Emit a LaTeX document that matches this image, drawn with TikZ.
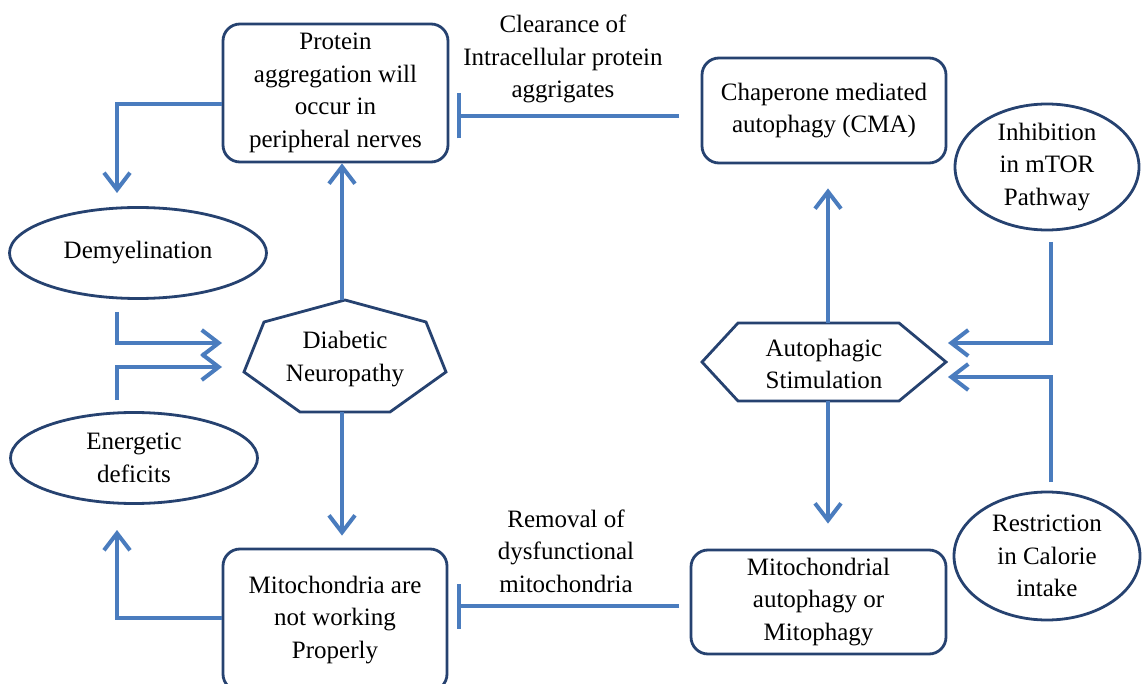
\documentclass[tikz,border=0pt]{standalone}
\usepackage{fontspec}
\setmainfont{Liberation Serif}
\usetikzlibrary{arrows.meta,shapes.geometric,calc}
\definecolor{lineblue}{RGB}{74,124,190}
\definecolor{edgeblue}{RGB}{38,66,112}
\begin{document}
\begin{tikzpicture}[x=1pt,y=-1pt,
  every node/.style={font=\fontsize{25}{32.5}\selectfont, align=center, text=black},
  box/.style={draw=edgeblue, line width=2.8pt, rounded corners=17pt, inner sep=0pt},
  oval/.style={draw=edgeblue, line width=2.8pt, ellipse, inner sep=0pt},
  poly/.style={draw=edgeblue, line width=2.8pt, line join=miter},
  conn/.style={draw=lineblue, line width=4pt},
  arr/.style={conn, -{Straight Barb[length=17pt,width=26pt,line width=4pt]}},
  inh/.style={conn, -{Bar[width=45pt,line width=4pt]}}
]
\useasboundingbox (0,0) rectangle (1142,684);

% nodes
\node[box, minimum width=225pt, minimum height=138pt] (prot) at (335.5,93)
  {Protein\\aggregation will\\occur in\\peripheral nerves};
\node[box, minimum width=244pt, minimum height=105pt] (cma) at (824,110.5)
  {Chaperone mediated\\autophagy (CMA)};
\node[box, minimum width=224pt, minimum height=142pt] (mito) at (335,620)
  {Mitochondria are\\not working\\Properly};
\node[box, minimum width=255pt, minimum height=104pt] (mitoph) at (818.5,602)
  {Mitochondrial\\autophagy or\\Mitophagy};
\node[oval, minimum width=257pt, minimum height=91pt] (demy) at (138,253) {Demyelination};
\node[oval, minimum width=247pt, minimum height=91pt] (energ) at (134,458) {Energetic\\deficits};
\node[oval, minimum width=184pt, minimum height=126pt] (mtor) at (1047,167) {Inhibition\\in mTOR\\Pathway};
\node[oval, minimum width=186pt, minimum height=128pt] (calor) at (1047,556) {Restriction\\in Calorie\\intake};

% heptagon Diabetic Neuropathy
\node (dn) at (345,359) {Diabetic\\Neuropathy};
\draw[poly] (345,300) -- (426,322) -- (446,372) -- (390,412) -- (300,412) -- (244,372) -- (264,322) -- cycle;
\coordinate (dntop) at (342,300);
\coordinate (dnbot) at (342,412);

% hexagon Autophagic Stimulation
\node (as) at (824,364) {Autophagic\\Stimulation};
\draw[poly] (702,362) -- (738,323) -- (899,323) -- (946,362) -- (899,401) -- (738,401) -- cycle;
\coordinate (astop) at (828,323);
\coordinate (asbot) at (828,401);
\coordinate (aseast1) at (948,343);
\coordinate (aseast2) at (948,377);

% labels
\node (lab1) at (563,59) {Clearance of\\Intracellular protein\\aggrigates};
\node (lab2) at (566,551) {Removal of\\dysfunctional\\mitochondria};

% free ends
\coordinate (c1) at (117,193);
\coordinate (c2) at (117,312);
\coordinate (c3) at (222,343);
\coordinate (c4) at (117,400);
\coordinate (c5) at (222,367);
\coordinate (c6) at (117,530);
\coordinate (t1a) at (679,116);
\coordinate (t1b) at (457,116);
\coordinate (t2a) at (679,606);
\coordinate (t2b) at (457,606);
\coordinate (m1) at (1051,242);
\coordinate (m2) at (1051,482);

% connectors
\draw[arr] ([yshift=-11pt]prot.west) -| (c1);
\draw[arr] (c2) |- (c3);
\draw[arr] (c4) |- (c5);
\draw[arr] ([yshift=2pt]mito.west) -| (c6);
\draw[arr] (dntop) -- (dntop |- prot.south);
\draw[arr] (dnbot) -- ($(dnbot |- mito.north)+(0,-12)$);
\draw[inh] (t1a) -- (t1b);
\draw[inh] (t2a) -- (t2b);
\draw[arr] (astop) -- ($(astop |- cma.south)+(0,24)$);
\draw[arr] (asbot) -- ($(asbot |- mitoph.north)+(0,-25)$);
\draw[arr] (m1) |- (aseast1);
\draw[arr] (m2) |- (aseast2);
\end{tikzpicture}
\end{document}
